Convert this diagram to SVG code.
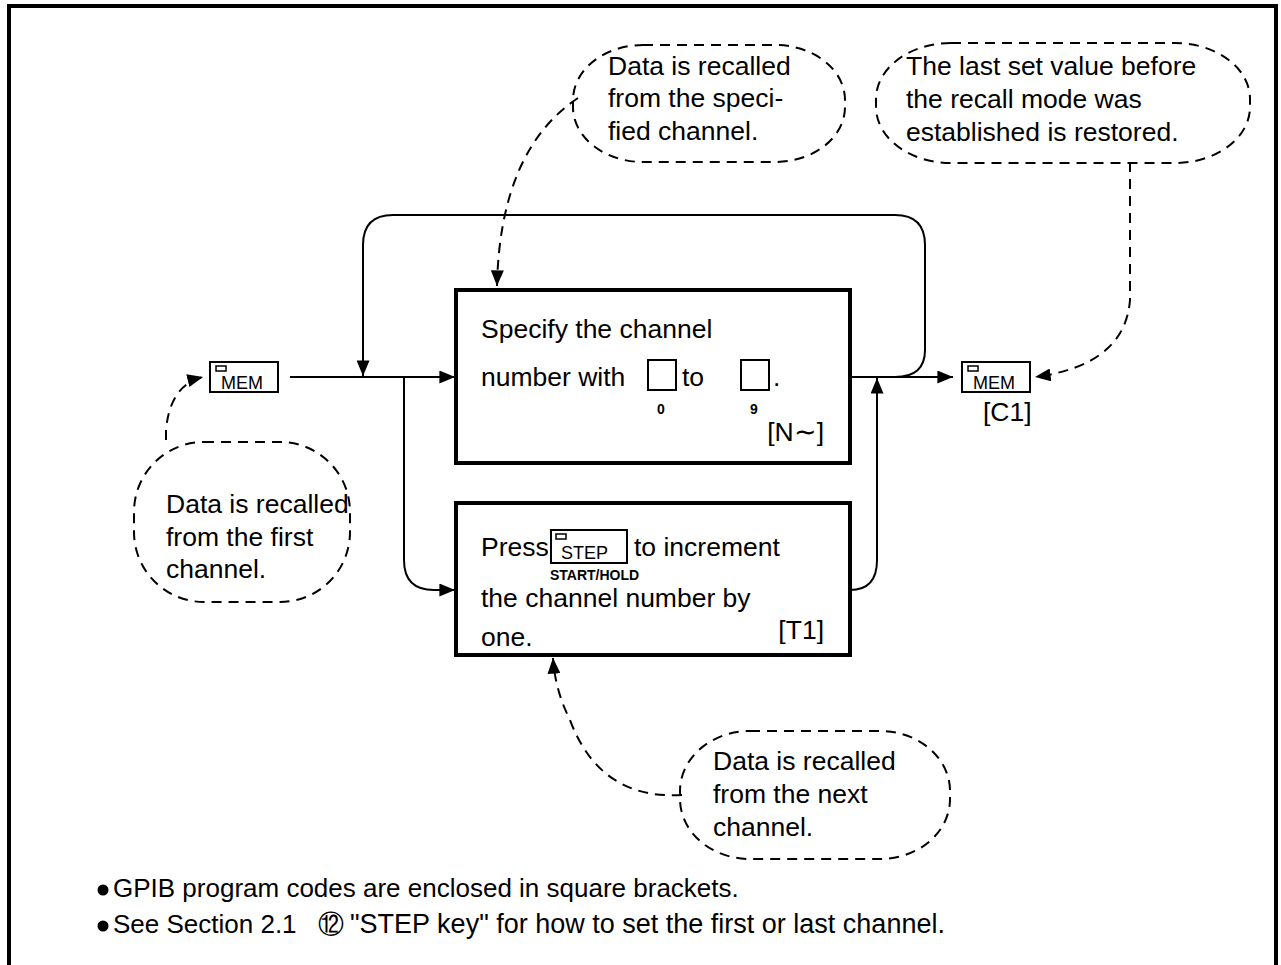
<svg xmlns="http://www.w3.org/2000/svg" width="1281" height="965" viewBox="0 0 1281 965">
<defs>
<style>
text{font-family:"Liberation Sans",Arial,sans-serif;fill:#000}
.t{font-size:26.5px}
.ft{font-size:26px}
.box{fill:#fff;stroke:#000;stroke-width:4}
.ln{fill:none;stroke:#000;stroke-width:2}
.dash{fill:none;stroke:#000;stroke-width:2;stroke-dasharray:10 7}
.key{fill:#fff;stroke:#000;stroke-width:2}
.k{font-size:18px}
.s{font-size:14px;font-weight:bold}
</style>
<marker id="ah" viewBox="0 0 12 10" refX="12" refY="5" markerWidth="16" markerHeight="13" markerUnits="userSpaceOnUse" orient="auto">
<path d="M0,0 L12,5 L0,10 z" fill="#000"/>
</marker>
</defs>
<rect width="1281" height="965" fill="#fff"/>
<path d="M9,965 V6 H1276 V965" fill="none" stroke="#000" stroke-width="4"/>

<g id="connectors">
<line class="ln" x1="290" y1="377" x2="455" y2="377" marker-end="url(#ah)"/>
<path class="ln" d="M404,377 V560 Q404,590 434,590 H455" marker-end="url(#ah)"/>
<line class="ln" x1="850" y1="377" x2="953" y2="377" marker-end="url(#ah)"/>
<path class="ln" d="M895,377 Q925,377 925,350 V245 Q925,215 895,215 H393 Q363,215 363,245 V376" marker-end="url(#ah)"/>
<path class="ln" d="M850,590 Q877,590 877,560 V378" marker-end="url(#ah)"/>
<path class="dash" d="M578,98 Q500,150 497,286" marker-end="url(#ah)"/>
<path class="dash" d="M1130,162 V300 Q1125,365 1035,377" marker-end="url(#ah)"/>
<path class="dash" d="M166,440 V430 Q170,385 203,377" marker-end="url(#ah)"/>
<path class="dash" d="M682,795 Q600,800 570,720 Q555,690 553,658" marker-end="url(#ah)"/>
</g>

<g id="mem-in">
<rect class="key" x="210" y="362" width="68" height="30"/>
<rect x="216" y="366" width="10" height="5" fill="none" stroke="#000" stroke-width="1.5"/>
<text class="k" x="221" y="389">MEM</text>
</g>

<g id="mem-out">
<rect class="key" x="962" y="362" width="68" height="30"/>
<rect x="968" y="366" width="10" height="5" fill="none" stroke="#000" stroke-width="1.5"/>
<text class="k" x="973" y="389">MEM</text>
<text class="t" x="983" y="421">[C1]</text>
</g>

<g id="box-specify">
<rect class="box" x="456" y="290" width="394" height="173"/>
<text class="t" x="481" y="338">Specify the channel</text>
<text class="t" x="481" y="386">number with</text>
<rect class="key" x="648" y="360" width="28" height="30"/>
<text class="t" x="682" y="386">to</text>
<rect class="key" x="741" y="360" width="28" height="30"/>
<text class="t" x="773" y="386">.</text>
<text class="s" x="657" y="414">0</text>
<text class="s" x="750" y="414">9</text>
<text class="t" x="824" y="441" text-anchor="end">[N∼]</text>
</g>

<g id="box-step">
<rect class="box" x="456" y="503" width="394" height="152"/>
<text class="t" x="481" y="556">Press</text>
<rect class="key" x="551" y="530" width="76" height="33"/>
<rect x="556" y="534" width="10" height="5" fill="none" stroke="#000" stroke-width="1.5"/>
<text class="k" x="561" y="559">STEP</text>
<text class="t" x="634" y="556">to increment</text>
<text class="s" x="550" y="580">START/HOLD</text>
<text class="t" x="481" y="607">the channel number by</text>
<text class="t" x="481" y="646">one.</text>
<text class="t" x="824" y="639" text-anchor="end">[T1]</text>
</g>

<g id="callout-specified">
<rect class="dash" x="573" y="45" width="272" height="117" rx="70" ry="55"/>
<text class="t" x="608" y="75">Data is recalled</text>
<text class="t" x="608" y="107">from the speci-</text>
<text class="t" x="608" y="140">fied channel.</text>
</g>

<g id="callout-restored">
<rect class="dash" x="876" y="43" width="374" height="120" rx="75" ry="56"/>
<text class="t" x="906" y="75">The last set value before</text>
<text class="t" x="906" y="108">the recall mode was</text>
<text class="t" x="906" y="141">established is restored.</text>
</g>

<g id="callout-first">
<rect class="dash" x="134" y="442" width="216" height="160" rx="70" ry="70"/>
<text class="t" x="166" y="513">Data is recalled</text>
<text class="t" x="166" y="546">from the first</text>
<text class="t" x="166" y="578">channel.</text>
</g>

<g id="callout-next">
<rect class="dash" x="680" y="731" width="270" height="128" rx="70" ry="60"/>
<text class="t" x="713" y="770">Data is recalled</text>
<text class="t" x="713" y="803">from the next</text>
<text class="t" x="713" y="836">channel.</text>
</g>

<g id="notes">
<circle cx="103" cy="890" r="5.5" fill="#000"/>
<text class="ft" x="113" y="897">GPIB program codes are enclosed in square brackets.</text>
<circle cx="103" cy="926" r="5.5" fill="#000"/>
<text class="ft" x="113" y="933">See Section 2.1</text>
<text class="ft" x="318" y="933">⑫</text>
<text class="ft" x="350" y="933" style="font-size:27px">"STEP key" for how to set the first or last channel.</text>
</g>
</svg>
